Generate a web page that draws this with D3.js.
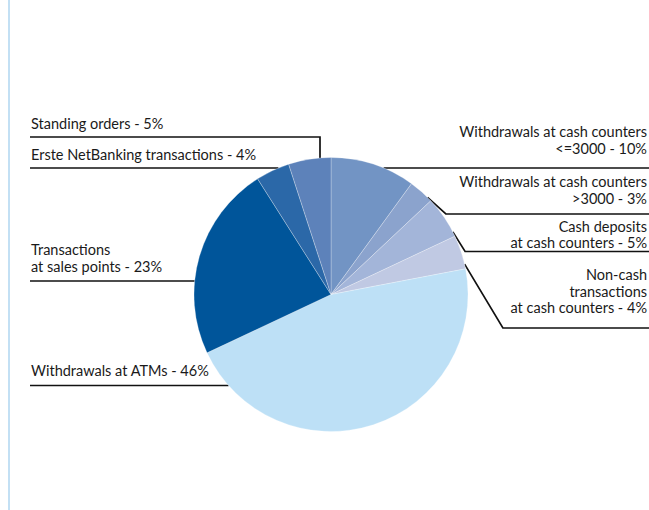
<!DOCTYPE html>
<html>
<head>
<meta charset="utf-8">
<script src="https://cdn.jsdelivr.net/npm/d3@7/dist/d3.min.js"></script>
<style>
  html, body { margin: 0; padding: 0; background: #fff; }
  svg { display: block; }
  text { font-family: Lato, "Noto Sans", sans-serif; font-size: 14.5px; fill: #1a1a1a; }
</style>
</head>
<body>
<svg id="chart" width="649" height="510"></svg>
<script>
// Payment transactions by type, share of total (%), clockwise from 12 o'clock
const categories = [
  "Withdrawals at cash counters <=3000",
  "Withdrawals at cash counters >3000",
  "Cash deposits at cash counters",
  "Non-cash transactions at cash counters",
  "Withdrawals at ATMs",
  "Transactions at sales points",
  "Erste NetBanking transactions",
  "Standing orders"
];
const values = [10, 3, 5, 4, 46, 23, 4, 5];

// Label text, one entry per line; the share is appended to the last line
const labelLines = [
  ["Withdrawals at cash counters", "<=3000"],
  ["Withdrawals at cash counters", ">3000"],
  ["Cash deposits", "at cash counters"],
  ["Non-cash", "transactions", "at cash counters"],
  ["Withdrawals at ATMs"],
  ["Transactions", "at sales points"],
  ["Erste NetBanking transactions"],
  ["Standing orders"]
];

// Slice fills
const palette = ["#7294c4", "#8ba3cd", "#a3b5d9", "#c0c9e3", "#bde0f6", "#00559a", "#2b68a8", "#5d82ba"];

// Label placement: side, first baseline, leader line height (and drop x for the elbowed one)
const labelLayout = [
  { side: "right", baseline: 137, lineY: 168 },
  { side: "right", baseline: 187, lineY: 214 },
  { side: "right", baseline: 231.5, lineY: 251.5 },
  { side: "right", baseline: 280, lineY: 328 },
  { side: "left",  baseline: 376, lineY: 385.5 },
  { side: "left",  baseline: 255, lineY: 281 },
  { side: "left",  baseline: 160, lineY: 168 },
  { side: "left",  baseline: 129, lineY: 137, dropX: 320 }
];

const W = 649, H = 510;
const cx = 331, cy = 294.5, R = 137;
const leftX = 30, rightX = 647, lineHeight = 16.5;
const TAU = Math.PI * 2;

const svg = d3.select("#chart");

// page margin rule
svg.append("rect").attr("x", 8).attr("y", 0).attr("width", 2).attr("height", H).attr("fill", "#c3e0f4");

const pie = d3.pie().sort(null).value(d => d).startAngle(0).endAngle(TAU);
const arcs = pie(values);
const arc = d3.arc().innerRadius(0).outerRadius(R);

const onCircle = a => [cx + R * Math.sin(a), cy - R * Math.cos(a)];
const norm = a => ((a % TAU) + TAU) % TAU;

// leader lines
const leaders = svg.append("g").attr("fill", "none").attr("stroke", "#111").attr("stroke-width", 1.7);

arcs.forEach((d, i) => {
  const L = labelLayout[i];
  const m = 2 * Math.PI / 180;
  const lo = d.startAngle + m, hi = d.endAngle - m;
  const path = d3.path();
  if (L.dropX !== undefined) {
    // horizontal run, then straight down onto the top of the pie
    const dx = L.dropX - cx;
    const a = norm(Math.atan2(dx, Math.sqrt(R * R - dx * dx)));
    const ac = Math.min(Math.max(a, lo), hi);
    const [px, py] = onCircle(ac);
    path.moveTo(leftX, L.lineY);
    path.lineTo(px, L.lineY);
    path.lineTo(px, py);
  } else {
    const dy = L.lineY - cy;
    const dx = Math.sqrt(Math.max(0, R * R - dy * dy));
    const ex = L.side === "right" ? cx + dx : cx - dx;
    const a = norm(Math.atan2(ex - cx, -dy));
    const startX = L.side === "right" ? W : leftX;
    path.moveTo(startX, L.lineY);
    if (a >= lo && a <= hi) {
      // the line meets the circle inside its own slice
      path.lineTo(ex, L.lineY);
    } else {
      // otherwise bend the line towards the nearest point of the slice
      const ac = Math.min(Math.max(a, lo), hi);
      const [px, py] = onCircle(ac);
      let elbow = px + 0.6 * Math.abs(L.lineY - py);
      elbow = Math.max(elbow, ex + 4);
      path.lineTo(elbow, L.lineY);
      path.lineTo(px, py);
    }
  }
  leaders.append("path").attr("d", path.toString());
});

// pie slices
svg.append("g")
  .attr("transform", `translate(${cx},${cy})`)
  .selectAll("path")
  .data(arcs)
  .join("path")
  .attr("d", arc)
  .attr("fill", (d, i) => palette[i])
  .attr("stroke", "#ffffff")
  .attr("stroke-opacity", 0.45)
  .attr("stroke-width", 0.6);

// labels
const labels = svg.append("g");
arcs.forEach((d, i) => {
  const L = labelLayout[i];
  const lines = labelLines[i].slice();
  lines[lines.length - 1] = lines[lines.length - 1] + " - " + values[i] + "%";
  const t = labels.append("text")
    .attr("text-anchor", L.side === "right" ? "end" : "start");
  lines.forEach((s, k) => {
    t.append("tspan")
      .attr("x", L.side === "right" ? rightX : leftX + 1)
      .attr("y", L.baseline + k * lineHeight)
      .text(s);
  });
});
</script>
</body>
</html>
